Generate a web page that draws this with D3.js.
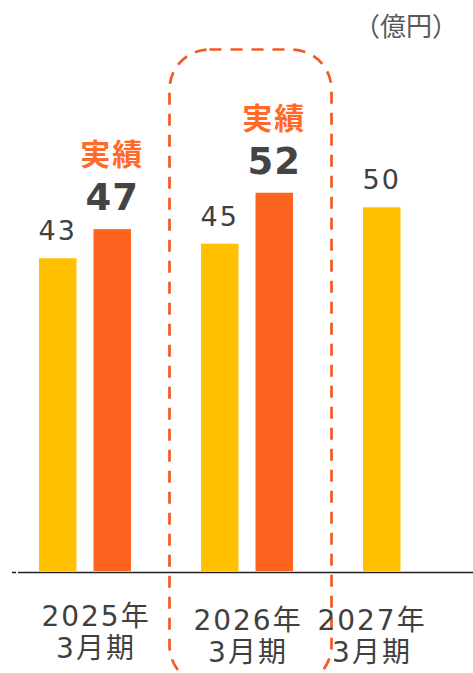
<!DOCTYPE html>
<html>
<head>
<meta charset="utf-8">
<script src="https://cdn.jsdelivr.net/npm/d3@7"></script>
<style>
  html, body { margin: 0; padding: 0; background: #fff; }
  svg { display: block; }
</style>
</head>
<body>
<div id="chart"></div>
<script>
const width = 473;
const height = 673;

// data
const categories = ["2025", "2026", "2027"];
const yearLabels = ["2025年", "2026年", "2027年"];
const periodLabels = ["3月期", "3月期", "3月期"];
const series = ["plan", "actual"];
const planValues = [43, 45, 50];
const actualValues = [47, 52, null];
const actualTags = ["実績", "実績", null];
const unitLabel = "（億円）";

const colors = { plan: "#FFC000", actual: "#FD6420" };
const numFont = "'DejaVu Sans', 'Noto Sans CJK JP', sans-serif";
const cjkFont = "'Noto Sans CJK JP', sans-serif";

// small nudges for the category labels (layout only)
const labelShiftX = [11, 1, -37];
const labelShiftY = [-4, 0, 0];

const svg = d3.select("#chart")
    .append("svg")
    .attr("width", width)
    .attr("height", height);

const x0 = d3.scaleBand()
    .domain(categories)
    .range([4, 490])
    .padding(0);

const x1 = d3.scaleBand()
    .domain(series)
    .range([-46, 46])
    .paddingInner(0.312)
    .paddingOuter(0);

const y = d3.scaleLinear()
    .domain([0, 78.5])
    .range([571, 0]);

const rows = categories.map((c, i) => ({
    cat: c,
    plan: planValues[i],
    actual: actualValues[i],
    tag: actualTags[i],
    year: yearLabels[i],
    period: periodLabels[i],
    i: i
}));

const cx = d => x0(d.cat) + x0.bandwidth() / 2;

// highlight box around 2026
const hb = x0("2026");
svg.append("rect")
    .attr("x", hb + x0.bandwidth() / 2 - 81.5 + 4)
    .attr("y", 49.5)
    .attr("width", 162)
    .attr("height", 636)
    .attr("rx", 40)
    .attr("fill", "none")
    .attr("stroke", "#F15A24")
    .attr("stroke-width", 2.7)
    .attr("stroke-dasharray", "12 9");

// bars
const groups = svg.selectAll("g.group")
    .data(rows)
    .enter()
    .append("g")
    .attr("class", "group")
    .attr("transform", d => `translate(${cx(d)},0)`);

groups.selectAll("rect.bar")
    .data(d => series.filter(s => d[s] != null).map(s => ({ key: s, value: d[s] })))
    .enter()
    .append("rect")
    .attr("class", "bar")
    .attr("x", d => x1(d.key))
    .attr("y", d => y(d.value))
    .attr("width", x1.bandwidth())
    .attr("height", d => y(0) - y(d.value))
    .attr("fill", d => colors[d.key]);

// plan value labels
groups.append("text")
    .attr("x", x1("plan") + x1.bandwidth() / 2)
    .attr("y", d => y(d.plan) - 18)
    .attr("text-anchor", "middle")
    .attr("font-family", numFont)
    .attr("font-size", 27)
    .attr("letter-spacing", 2)
    .attr("fill", "#404040")
    .text(d => d.plan);

// actual value labels
const withActual = groups.filter(d => d.actual != null);
withActual.append("text")
    .attr("x", x1("actual") + x1.bandwidth() / 2)
    .attr("y", d => y(d.actual) - 19)
    .attr("text-anchor", "middle")
    .attr("font-family", numFont)
    .attr("font-weight", "bold")
    .attr("font-size", 37)
    .attr("letter-spacing", 1)
    .attr("fill", "#444")
    .text(d => d.actual);

withActual.append("text")
    .attr("x", x1("actual") + x1.bandwidth() / 2)
    .attr("y", d => y(d.actual) - 64)
    .attr("text-anchor", "middle")
    .attr("font-family", cjkFont)
    .attr("font-weight", "bold")
    .attr("font-size", 30)
    .attr("letter-spacing", 2)
    .attr("fill", "#FF6A28")
    .text(d => d.tag);

// x axis
const axis = svg.append("g")
    .attr("transform", `translate(0,${y(0) + 1.5})`)
    .call(d3.axisBottom(x0).tickSize(0).tickFormat(""));
axis.select(".domain")
    .attr("d", "M18,0H473")
    .attr("stroke", "#222")
    .attr("stroke-width", 1.6);
axis.append("line")
    .attr("x1", 12).attr("x2", 16)
    .attr("stroke", "#222")
    .attr("stroke-width", 1.6);

// category labels
const labels = svg.selectAll("text.cat")
    .data(rows)
    .enter()
    .append("text")
    .attr("class", "cat")
    .attr("text-anchor", "middle")
    .attr("font-family", numFont)
    .attr("font-size", 28)
    .attr("letter-spacing", 2)
    .attr("fill", "#404040")
    .attr("transform", d => `translate(${cx(d) + labelShiftX[d.i]},${labelShiftY[d.i]})`);

labels.append("tspan")
    .attr("x", 0)
    .attr("y", 630)
    .text(d => d.year);
labels.append("tspan")
    .attr("x", 0)
    .attr("y", 662)
    .text(d => d.period);

// unit
svg.append("text")
    .attr("x", 406)
    .attr("y", 36)
    .attr("text-anchor", "middle")
    .attr("font-family", cjkFont)
    .attr("font-size", 26)
    .attr("fill", "#595959")
    .text(unitLabel);
</script>
</body>
</html>
